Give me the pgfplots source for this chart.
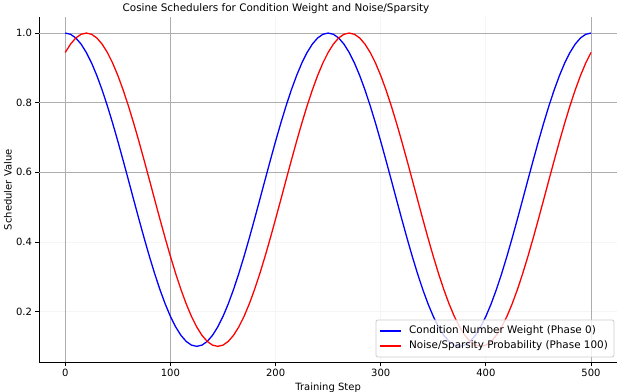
\documentclass[border=0pt]{standalone}
\usepackage{fontspec}
\setmainfont{DejaVu Sans}
\usepackage{pgfplots}
\usepackage{pgfplotstable}
\pgfplotsset{compat=1.18}
\pgfplotstableread{
x b r
0 1.0000 0.9443
5 0.9965 0.9684
10 0.9859 0.9859
15 0.9684 0.9965
20 0.9443 1.0000
25 0.9141 0.9965
30 0.8780 0.9859
35 0.8368 0.9684
40 0.7911 0.9443
45 0.7416 0.9141
50 0.6891 0.8780
55 0.6343 0.8368
60 0.5783 0.7911
65 0.5217 0.7416
70 0.4657 0.6891
75 0.4109 0.6343
80 0.3584 0.5783
85 0.3089 0.5217
90 0.2632 0.4657
95 0.2220 0.4109
100 0.1859 0.3584
105 0.1557 0.3089
110 0.1316 0.2632
115 0.1141 0.2220
120 0.1035 0.1859
125 0.1000 0.1557
130 0.1035 0.1316
135 0.1141 0.1141
140 0.1316 0.1035
145 0.1557 0.1000
150 0.1859 0.1035
155 0.2220 0.1141
160 0.2632 0.1316
165 0.3089 0.1557
170 0.3584 0.1859
175 0.4109 0.2220
180 0.4657 0.2632
185 0.5217 0.3089
190 0.5783 0.3584
195 0.6343 0.4109
200 0.6891 0.4657
205 0.7416 0.5217
210 0.7911 0.5783
215 0.8368 0.6343
220 0.8780 0.6891
225 0.9141 0.7416
230 0.9443 0.7911
235 0.9684 0.8368
240 0.9859 0.8780
245 0.9965 0.9141
250 1.0000 0.9443
255 0.9965 0.9684
260 0.9859 0.9859
265 0.9684 0.9965
270 0.9443 1.0000
275 0.9141 0.9965
280 0.8780 0.9859
285 0.8368 0.9684
290 0.7911 0.9443
295 0.7416 0.9141
300 0.6891 0.8780
305 0.6343 0.8368
310 0.5783 0.7911
315 0.5217 0.7416
320 0.4657 0.6891
325 0.4109 0.6343
330 0.3584 0.5783
335 0.3089 0.5217
340 0.2632 0.4657
345 0.2220 0.4109
350 0.1859 0.3584
355 0.1557 0.3089
360 0.1316 0.2632
365 0.1141 0.2220
370 0.1035 0.1859
375 0.1000 0.1557
380 0.1035 0.1316
385 0.1141 0.1141
390 0.1316 0.1035
395 0.1557 0.1000
400 0.1859 0.1035
405 0.2220 0.1141
410 0.2632 0.1316
415 0.3089 0.1557
420 0.3584 0.1859
425 0.4109 0.2220
430 0.4657 0.2632
435 0.5217 0.3089
440 0.5783 0.3584
445 0.6343 0.4109
450 0.6891 0.4657
455 0.7416 0.5217
460 0.7911 0.5783
465 0.8368 0.6343
470 0.8780 0.6891
475 0.9141 0.7416
480 0.9443 0.7911
485 0.9684 0.8368
490 0.9859 0.8780
495 0.9965 0.9141
500 1.0000 0.9443
}\sched
\begin{document}
\begin{tikzpicture}
\begin{axis}[
  at={(39bp,30bp)}, anchor=south west,
  width=578.3bp, height=344.6bp, scale only axis,
  xmin=-25, xmax=525, ymin=0.055, ymax=1.045,
  axis x line*=bottom, axis y line*=left,
  axis line style={black, line width=0.8bp},
  tick align=outside, major tick length=3.5bp,
  tick style={black, line width=0.8bp},
  /pgf/number format/assume math mode=true,
  tick label style={font=\fontsize{10bp}{12bp}\selectfont},
  label style={font=\fontsize{10bp}{12bp}\selectfont},
  xtick={0,100,200,300,400,500},
  ytick={0.2,0.4,0.6,0.8,1.0},
  yticklabel={\pgfmathprintnumber[fixed,fixed zerofill,precision=1,assume math mode=true]{\tick}},
  grid=major,
  major grid style={draw=black!4, line width=0.8bp},
  xlabel={Training Step},
  ylabel={Scheduler Value},
  xlabel style={at={(axis description cs:0.5,0)}, anchor=center, yshift=-26bp},
  ylabel style={at={(axis description cs:-0.0536,0.5)}, anchor=center},
]
% strong grid lines (0, 100, 500 and 0.6, 0.8, 1.0)
\addplot[black!32, line width=0.8bp, forget plot] coordinates {(0,0.055) (0,1.045)};
\addplot[black!32, line width=0.8bp, forget plot] coordinates {(100,0.055) (100,1.045)};
\addplot[black!32, line width=0.8bp, forget plot] coordinates {(500,0.055) (500,1.045)};
\addplot[black!32, line width=0.8bp, forget plot] coordinates {(-25,0.6) (525,0.6)};
\addplot[black!32, line width=0.8bp, forget plot] coordinates {(-25,0.8) (525,0.8)};
\addplot[black!32, line width=0.8bp, forget plot] coordinates {(-25,1.0) (525,1.0)};
\addplot[color=blue, line width=1.3bp] table[x=x, y=b] {\sched};
\addplot[color=red, line width=1.3bp] table[x=x, y=r] {\sched};
\end{axis}
% legend
\draw[draw=black!20, fill=white, fill opacity=0.8, rounded corners=2bp, line width=0.8bp] (376bp,35bp) rectangle (614bp,72bp);
\draw[blue, line width=1.5bp] (380bp,61bp) -- (401bp,61bp);
\draw[red, line width=1.5bp] (380bp,46bp) -- (401bp,46bp);
\node[anchor=west, inner sep=0pt, font=\fontsize{10.4bp}{12bp}\selectfont] at (409bp,61bp) {Condition Number Weight (Phase 0)};
\node[anchor=west, inner sep=0pt, font=\fontsize{10.4bp}{12bp}\selectfont] at (409bp,46bp) {Noise/Sparsity Probability (Phase 100)};
\node[font=\fontsize{10.4bp}{12bp}\selectfont, anchor=center] at (276bp,383bp) {Cosine Schedulers for Condition Weight and Noise/Sparsity};
\pgfresetboundingbox
\useasboundingbox (0,0) rectangle (618bp,392bp);
\end{tikzpicture}
\end{document}
